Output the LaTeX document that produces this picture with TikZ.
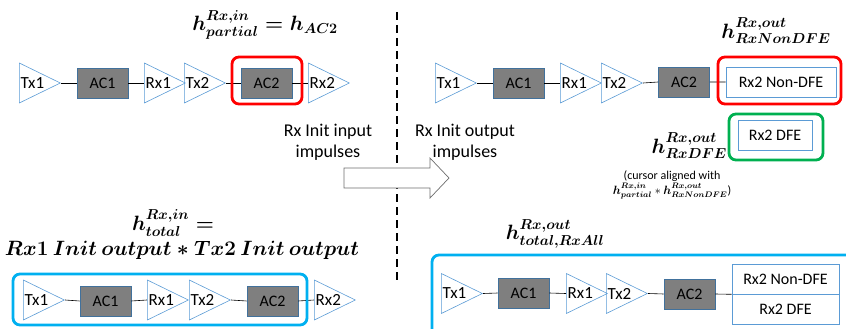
\documentclass[tikz,border=0pt]{standalone}
\usepackage{amsmath}
\usepackage[no-math]{fontspec}
\setmainfont{Carlito}
\usetikzlibrary{shapes.geometric}

\definecolor{triblue}{RGB}{91,155,213}
\definecolor{boxgray}{RGB}{127,127,127}
\definecolor{boxedge}{RGB}{65,113,156}
\definecolor{hlred}{RGB}{255,0,0}
\definecolor{hlgreen}{RGB}{0,176,80}
\definecolor{hlblue}{RGB}{0,176,240}
\definecolor{arrgray}{RGB}{110,110,110}

\tikzset{
  amp/.style={isosceles triangle, isosceles triangle stretches, draw=triblue,
    line width=0.6pt, minimum width=40pt, minimum height=41pt, inner sep=0pt,
    anchor=west,
    label={[anchor=west,inner sep=1.5pt,font=\fontsize{17}{19}\selectfont]west:#1}},
  ac/.style={draw=boxedge, fill=boxgray, line width=0.6pt, minimum width=51pt,
    minimum height=30pt, inner sep=0pt, font=\fontsize{16}{18}\selectfont},
  rxbox/.style={draw=triblue, fill=white, line width=0.6pt, minimum height=30pt,
    inner sep=0pt, font=\fontsize{16}{18}\selectfont},
  hl/.style={line width=2.8pt, rounded corners=7pt},
  wire/.style={line width=0.6pt},
  eq/.style={font=\fontsize{20}{24}\selectfont, inner sep=0pt},
  lbl/.style={font=\fontsize{18}{21}\selectfont, align=center, inner sep=0pt}
}

\begin{document}
\begin{tikzpicture}[x=1pt,y=-1pt]
\useasboundingbox (0,0) rectangle (846,329);

% divider and the big arrow
\draw[dash pattern=on 8pt off 5pt, line width=2pt] (397,12) -- (397,282);
\draw[draw=arrgray, fill=white, line width=0.7pt] (344,168) -- (430,168) -- (430,158)
  -- (449,178) -- (430,198) -- (430,188) -- (344,188) -- cycle;
\node[lbl] (inimp) at (328,142) {Rx Init input\\impulses};
\node[lbl] (outimp) at (465,142) {Rx Init output\\impulses};

% partial input
\node[eq] (hpart) at (265,25) {$\boldsymbol{h^{Rx,in}_{partial} = h_{AC2}}$};
\node[amp=Tx1] (a1) at (19,83) {};
\node[ac] (a2) at (102.5,83) {AC1};
\node[amp=Rx1] (a3) at (144,83) {};
\node[amp=Tx2] (a4) at (184,83) {};
\node[ac] (a5) at (266.5,83) {AC2};
\node[amp=Rx2] (a6) at (308,83) {};
\draw[wire] (a1.apex) -- (a2.west) (a2.east) -- (a3.west);
\draw[wire] (a4.apex) -- (a5.west) (a5.east) -- (a6.west);
\draw[hl, draw=hlred] (232,57) rectangle (302,104);

% output, non-DFE and DFE
\node[eq] (hnon) at (776,31) {$\boldsymbol{h^{Rx,out}_{RxNonDFE}}$};
\node[amp=Tx1] (b1) at (435,83) {};
\node[ac] (b2) at (518.5,83) {AC1};
\node[amp=Rx1] (b3) at (560,83) {};
\node[amp=Tx2] (b4) at (601,83) {};
\node[ac] (b5) at (684,82) {AC2};
\node[rxbox, minimum width=110pt] (b6) at (781,82) {Rx2 Non-DFE};
\draw[wire] (b1.apex) -- (b2.west) (b2.east) -- (b3.west);
\draw[wire] (b4.apex) -- (b5.west) (b5.east) -- (b6.west);
\draw[hl, draw=hlred] (718,57) rectangle (841,104);

\node[rxbox, minimum width=74pt] (c1) at (775,135) {Rx2 DFE};
\draw[hl, draw=hlgreen] (729,114) rectangle (823,160);
\node[eq, anchor=east] (hdfe) at (727,146) {$\boldsymbol{h^{Rx,out}_{RxDFE}}$};
\node[font=\fontsize{12}{15}\selectfont, align=center, inner sep=0pt] (cur) at (672,185)
  {(cursor aligned with\\$\boldsymbol{h^{Rx,in}_{partial}} * \boldsymbol{h^{Rx,out}_{RxNonDFE}}$)};

% total input
\node[eq] (htot) at (173,223) {$\boldsymbol{h^{Rx,in}_{total} =}$};
\node[eq] (hconv) at (182,250) {$\boldsymbol{Rx1\ Init\ output * Tx2\ Init\ output}$};
\node[amp=Tx1] (d1) at (23,300) {};
\node[ac] (d2) at (105.5,301) {AC1};
\node[amp=Rx1] (d3) at (147,300) {};
\node[amp=Tx2] (d4) at (189,300) {};
\node[ac] (d5) at (272.5,301) {AC2};
\node[amp=Rx2] (d6) at (314,300) {};
\draw[wire] (d1.apex) -- (d2.west) (d2.east) -- (d3.west);
\draw[wire] (d4.apex) -- (d5.west) (d5.east) -- (d6.west);
\draw[hl, draw=hlblue] (13,274) rectangle (307,325);

% total output
\node[eq] (hall) at (555,234) {$\boldsymbol{h^{Rx,out}_{total,RxAll}}$};
\node[amp=Tx1] (e1) at (441,293.5) {};
\node[ac] (e2) at (523.5,293) {AC1};
\node[amp=Rx1] (e3) at (566,293.5) {};
\node[amp=Tx2] (e4) at (606,293.5) {};
\node[ac] (e5) at (689.5,294) {AC2};
\node[rxbox, minimum width=107pt] (e6) at (785.5,279) {Rx2 Non-DFE};
\node[rxbox, minimum width=107pt] (e7) at (785.5,309) {Rx2 DFE};
\draw[wire] (e1.apex) -- (e2.west) (e2.east) -- (e3.west);
\draw[wire] (e4.apex) -- (e5.west) (e5.east) -- (e6.south west);
\draw[hl, draw=hlblue] (432,255) rectangle (870,345);
\end{tikzpicture}
\end{document}
